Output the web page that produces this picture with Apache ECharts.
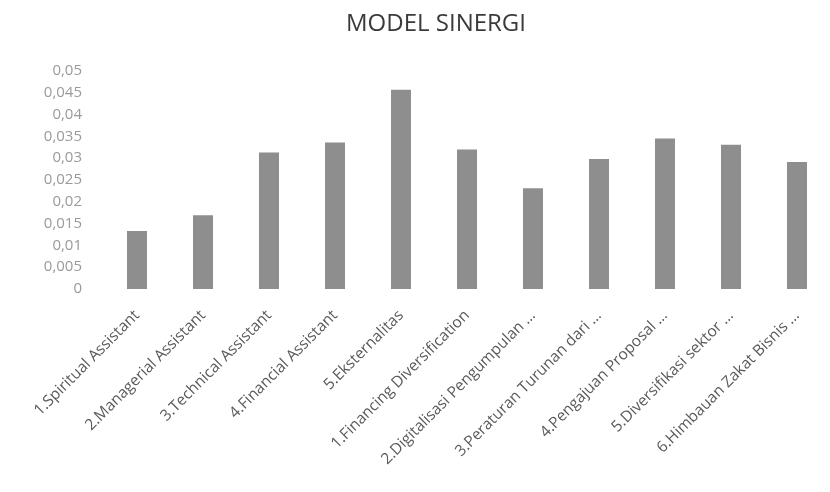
<!DOCTYPE html>
<html>
<head>
<meta charset="utf-8">
<script src="https://cdn.jsdelivr.net/npm/echarts@6/dist/echarts.min.js"></script>
<style>
  html, body { margin: 0; padding: 0; background: #ffffff; }
  #chart { width: 830px; height: 492px; }
</style>
</head>
<body>
<div id="chart"></div>
<script>
// Category names along the horizontal axis
const categories = [
  '1.Spiritual Assistant',
  '2.Managerial Assistant',
  '3.Technical Assistant',
  '4.Financial Assistant',
  '5.Eksternalitas',
  '1.Financing Diversification',
  '2.Digitalisasi Pengumpulan …',
  '3.Peraturan Turunan dari …',
  '4.Pengajuan Proposal …',
  '5.Diversifikasi sektor …',
  '6.Himbauan Zakat Bisnis …'
];

// Weight of each component
const weights = [0.0133, 0.0169, 0.0313, 0.0336, 0.0457, 0.0320, 0.0231, 0.0298, 0.0345, 0.0331, 0.0291];

// Value-axis tick labels (comma as decimal separator)
const yTicks = ['0', '0,005', '0,01', '0,015', '0,02', '0,025', '0,03', '0,035', '0,04', '0,045', '0,05'];

const chart = echarts.init(document.getElementById('chart'), null, { renderer: 'canvas' });

chart.setOption({
  animation: false,
  backgroundColor: '#ffffff',
  title: {
    text: 'MODEL SINERGI',
    left: 431,
    textAlign: 'center',
    top: 7,
    textStyle: {
      fontFamily: 'Open Sans',
      fontWeight: 'normal',
      fontSize: 24,
      color: '#3a3a3a'
    }
  },
  grid: {
    left: 104,
    top: 71,
    width: 744,
    bottom: 203
  },
  xAxis: {
    type: 'category',
    data: categories,
    axisLine: { show: false },
    axisTick: { show: false },
    axisLabel: {
      rotate: 45,
      interval: 0,
      margin: 24,
      fontFamily: 'Open Sans',
      fontSize: 15.5,
      color: '#5a5a5a'
    }
  },
  yAxis: {
    type: 'value',
    min: 0,
    max: 0.05,
    interval: 0.005,
    splitLine: { show: false },
    axisLine: { show: false },
    axisTick: { show: false },
    axisLabel: {
      margin: 22,
      fontFamily: 'Open Sans',
      fontSize: 15,
      color: '#9a9a9a',
      formatter: function (v) {
        return yTicks[Math.round(v / 0.005)];
      }
    }
  },
  series: [{
    type: 'bar',
    data: weights,
    barWidth: 20,
    itemStyle: { color: '#8e8e8e' }
  }]
});
</script>
</body>
</html>
